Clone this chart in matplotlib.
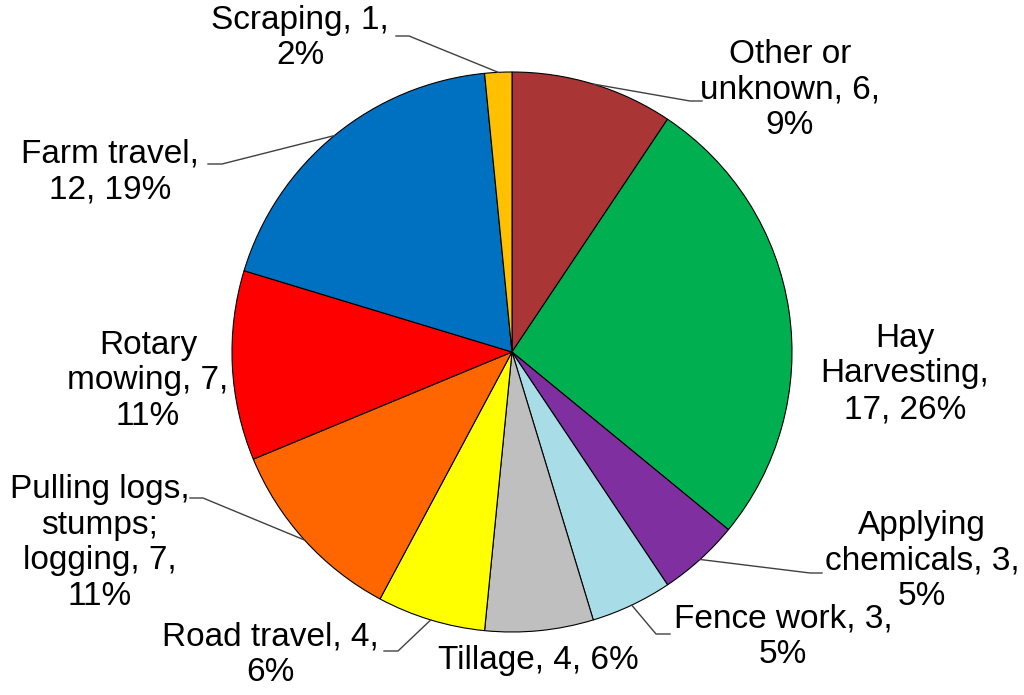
import matplotlib.pyplot as plt
import numpy as np

# data, clockwise from 12 o'clock
names = ["Other or\nunknown", "Hay\nHarvesting", "Applying\nchemicals", "Fence work",
         "Tillage", "Road travel", "Pulling logs,\nstumps;\nlogging", "Rotary\nmowing",
         "Farm travel", "Scraping"]
counts = [6, 17, 3, 3, 4, 4, 7, 7, 12, 1]
pcts = ["9%", "26%", "5%", "5%", "6%", "6%", "11%", "11%", "19%", "2%"]
colors = ["#A93535", "#00B050", "#7F2F9F", "#A8DDE8", "#BFBFBF",
          "#FFFF00", "#FF6600", "#FF0000", "#0070C0", "#FFC000"]

# how each label breaks: name<sep1>count<sep2>pct
sep1 = [", ", ",\n", ", ", ", ", ", ", ", ", ", ", ", ", ",\n", ", "]
sep2 = [",\n", ", ", ",\n", ",\n", ", ", ",\n", ",\n", ",\n", ", ", ",\n"]

W, H = 1024, 695
CX, CY, R = 512, 352, 280


def px(x, y):
    # pixel position -> data coords (pie radius = 1)
    return (x - CX) / R, (CY - y) / R


# label centre (px) and leader elbow/end (px), None = no leader
label_pos = [(790, 90), (905, 374), (922, 561), (783, 637), (538, 660),
             (270, 655), (100, 543), (148, 381), (110, 172), (300, 38)]
leaders = [[(690, 101), (702, 101)], None, [(810, 573), (822, 573)],
           [(656, 634), (670, 634)], None, [(398, 651), (384, 651)],
           [(203, 498), (190, 498)], None, [(222, 164), (208, 164)],
           [(409, 36), (396, 36)]]

plt.rcParams['font.family'] = ['Liberation Sans', 'DejaVu Sans']

fig = plt.figure(figsize=(W / 100, H / 100), dpi=100)
ax = fig.add_axes([0, 0, 1, 1])

wedges, _ = ax.pie(counts, colors=colors, startangle=90, counterclock=False,
                   radius=1, center=(0, 0),
                   wedgeprops=dict(edgecolor='black', linewidth=0.8))

for i, w in enumerate(wedges):
    txt = names[i] + sep1[i] + str(counts[i]) + sep2[i] + pcts[i]
    lx, ly = px(*label_pos[i])
    ax.text(lx, ly, txt, ha='center', va='center', multialignment='center',
            fontsize=24, linespacing=1.2, color='black')
    if leaders[i] is not None:
        ang = np.deg2rad((w.theta1 + w.theta2) / 2)
        pts = [(np.cos(ang), np.sin(ang))] + [px(*p) for p in leaders[i]]
        ax.plot([p[0] for p in pts], [p[1] for p in pts], color='#404040', lw=1)

ax.set_xlim(-CX / R, (W - CX) / R)
ax.set_ylim(-(H - CY) / R, CY / R)
ax.set_aspect('equal')
ax.axis('off')

fig.savefig("out.png", dpi=100)
